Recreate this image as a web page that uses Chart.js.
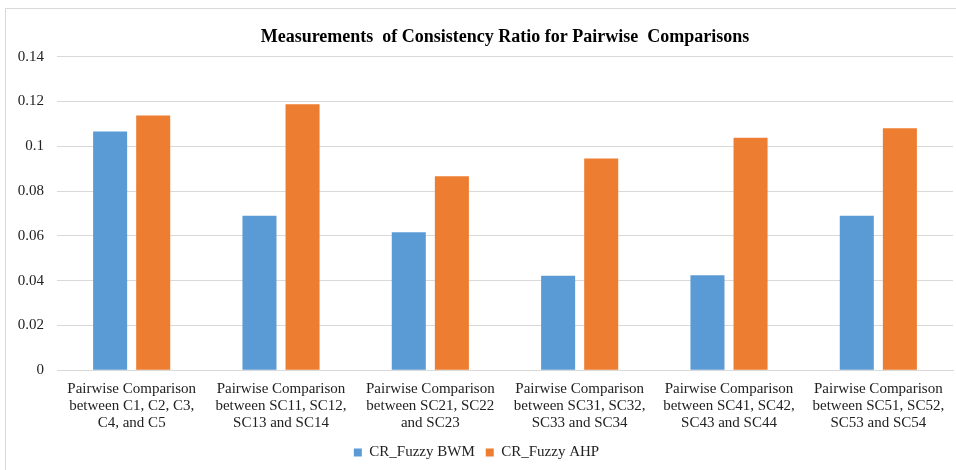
<!DOCTYPE html>
<html>
<head>
<meta charset="utf-8">
<script src="https://cdn.jsdelivr.net/npm/chart.js"></script>
<style>
  body { margin: 0; background: #fff; }
  #marco { position: absolute; left: 5px; top: 8px; width: 960px; height: 470px; border: 1px solid #d9d9d9; box-sizing: border-box; }
  #caja { position: absolute; left: 0; top: 0; width: 956px; height: 470px; }
</style>
</head>
<body>
<div id="marco"></div>
<div id="caja"><canvas id="grafico" width="956" height="470"></canvas></div>
<script>
const categorias = [
  ["Pairwise Comparison", "between C1, C2, C3,", "C4, and C5"],
  ["Pairwise Comparison", "between SC11, SC12,", "SC13 and SC14"],
  ["Pairwise Comparison", "between SC21, SC22", "and SC23"],
  ["Pairwise Comparison", "between SC31, SC32,", "SC33 and SC34"],
  ["Pairwise Comparison", "between SC41, SC42,", "SC43 and SC44"],
  ["Pairwise Comparison", "between SC51, SC52,", "SC53 and SC54"]
];
const crFuzzyBWM = [0.1066, 0.0690, 0.0616, 0.0422, 0.0424, 0.0690];
const crFuzzyAHP = [0.1137, 0.1187, 0.0866, 0.0945, 0.1038, 0.1080];
const ticksY = [0, 0.02, 0.04, 0.06, 0.08, 0.1, 0.12, 0.14];

const fuente = "'Liberation Serif', 'Times New Roman', serif";

const ctx = document.getElementById("grafico").getContext("2d");

window.miGrafico = new Chart(ctx, {
  type: "bar",
  data: {
    labels: categorias,
    datasets: [
      {
        label: "CR_Fuzzy BWM",
        data: crFuzzyBWM,
        backgroundColor: "#5B9BD5",
        categoryPercentage: 0.577,
        barPercentage: 0.79,
      },
      {
        label: "CR_Fuzzy AHP",
        data: crFuzzyAHP,
        backgroundColor: "#ED7D31",
        categoryPercentage: 0.577,
        barPercentage: 0.79,
      },
    ],
  },
  options: {
    responsive: false,
    animation: false,
    layout: { padding: { left: 0, right: 3, top: 0, bottom: 0 } },
    plugins: {
      title: {
        display: true,
        fullSize: false,
        text: "Measurements  of Consistency Ratio for Pairwise  Comparisons",
        color: "#000",
        font: { family: fuente, size: 18, weight: "bold" },
        padding: { top: 27, bottom: 8 },
      },
      legend: {
        position: "bottom",
        labels: {
          boxWidth: 8,
          boxHeight: 8,
          color: "#222",
          font: { family: fuente, size: 15 },
          padding: 11,
        },
      },
      tooltip: { enabled: false },
    },
    scales: {
      x: {
        grid: { display: false },
        border: { color: "#d9d9d9" },
        ticks: {
          color: "#222",
          font: { family: fuente, size: 15, lineHeight: 1.15 },
          maxRotation: 0,
          autoSkip: false,
          padding: 2,
        },
      },
      y: {
        min: 0,
        max: 0.14,
        afterBuildTicks: (eje) => {
          eje.ticks = ticksY.map((v) => ({ value: v }));
        },
        afterFit: (eje) => {
          eje.width = 57;
        },
        grid: { color: "#d9d9d9", drawTicks: false },
        border: { display: false },
        ticks: {
          color: "#222",
          font: { family: fuente, size: 15 },
          padding: 13,
          callback: (v) => String(+v.toFixed(2)),
        },
      },
    },
  },
});
</script>
</body>
</html>
